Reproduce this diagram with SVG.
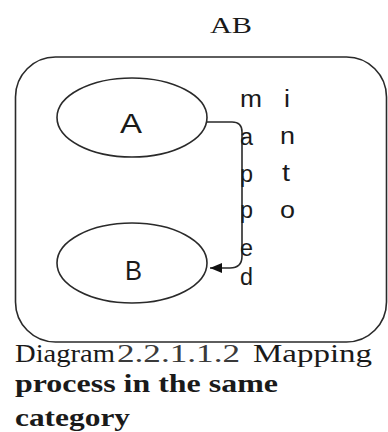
<svg xmlns="http://www.w3.org/2000/svg" width="388" height="432" viewBox="0 0 388 432">
<style>
.ln{fill:none;stroke:#2a2a2a;stroke-width:1.6}
.sans{font-family:"Liberation Sans",Arial,sans-serif;fill:#1a1a1a}
.serif{font-family:"Liberation Serif","Times New Roman",serif;fill:#1a1a1a}
.lt{font-size:23px}
.bold{font-weight:bold}
</style>
<defs>
<marker id="ah" markerWidth="12" markerHeight="10" refX="12" refY="5" orient="auto" markerUnits="userSpaceOnUse">
<path d="M0,0 L12,5 L0,10 Z" fill="#111"/>
</marker>
</defs>
<rect fill="#fff" width="388" height="432"/>
<text class="serif" x="210" y="33" font-size="24" textLength="42" lengthAdjust="spacingAndGlyphs">AB</text>
<g id="category">
<rect class="ln" x="15.5" y="57" width="371" height="285" rx="40" ry="40"/>
</g>
<g id="A">
<ellipse class="ln" cx="132" cy="117.5" rx="75" ry="39.5"/>
<text class="sans" x="120" y="133" font-size="28" textLength="22" lengthAdjust="spacingAndGlyphs">A</text>
</g>
<g id="B">
<ellipse class="ln" cx="132" cy="263" rx="75" ry="40"/>
<text class="sans" x="125" y="280" font-size="28" textLength="17" lengthAdjust="spacingAndGlyphs">B</text>
</g>
<g id="connectors">
<path class="ln" d="M207,122 H232 Q242,122 242,132 V256 Q242,268 230,268 H210" marker-end="url(#ah)"/>
</g>
<g id="label-mapped">
<text class="sans lt" x="240" y="107" textLength="22" lengthAdjust="spacingAndGlyphs">m</text>
<text class="sans lt" x="240" y="145" textLength="13" lengthAdjust="spacingAndGlyphs">a</text>
<text class="sans lt" x="240" y="182" textLength="13" lengthAdjust="spacingAndGlyphs">p</text>
<text class="sans lt" x="240" y="218" textLength="13" lengthAdjust="spacingAndGlyphs">p</text>
<text class="sans lt" x="240" y="256" textLength="13" lengthAdjust="spacingAndGlyphs">e</text>
<text class="sans lt" x="240" y="285" textLength="13" lengthAdjust="spacingAndGlyphs">d</text>
</g>
<g id="label-into">
<text class="sans lt" x="284" y="107" textLength="6" lengthAdjust="spacingAndGlyphs">i</text>
<text class="sans lt" x="280" y="144" textLength="15" lengthAdjust="spacingAndGlyphs">n</text>
<text class="sans lt" x="282" y="181" textLength="8" lengthAdjust="spacingAndGlyphs">t</text>
<text class="sans lt" x="280" y="218" textLength="15" lengthAdjust="spacingAndGlyphs">o</text>
</g>
<g id="caption">
<text class="serif" x="15" y="362" font-size="25" textLength="100" lengthAdjust="spacingAndGlyphs">Diagram</text>
<text class="serif" x="117" y="362" font-size="25" fill="#3a3a3a" textLength="123" lengthAdjust="spacingAndGlyphs" style="fill:#3a3a3a">2.2.1.1.2</text>
<text class="serif" x="253" y="362" font-size="25" textLength="119" lengthAdjust="spacingAndGlyphs">Mapping</text>
<text class="serif bold" x="15" y="392" font-size="26" textLength="263" lengthAdjust="spacingAndGlyphs">process  in the same</text>
<text class="serif bold" x="15" y="426" font-size="26" textLength="115" lengthAdjust="spacingAndGlyphs">category</text>
</g>
</svg>
